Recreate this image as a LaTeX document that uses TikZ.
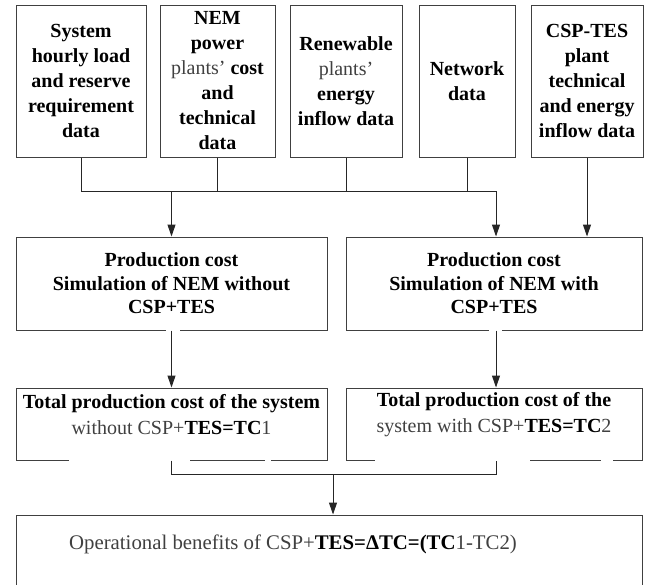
\documentclass[tikz,border=0pt]{standalone}
\usepackage{fontspec}
\setmainfont{Liberation Serif}
\usetikzlibrary{arrows.meta}
\newcommand\regtxt[1]{{\mdseries\color{black!75}#1}}
\begin{document}
\begin{tikzpicture}[x=1pt,y=-1pt,
  box/.style={draw=black!75, line width=1pt, rectangle, inner sep=0pt, align=center,
    font=\fontsize{20}{25}\selectfont\bfseries},
  midbox/.style={box, font=\fontsize{20}{23.5}\selectfont\bfseries},
  txt/.style={inner sep=0pt, align=center, font=\fontsize{20}{26}\selectfont\bfseries},
  conn/.style={draw=black!85, line width=1pt},
  arr/.style={conn, -{Triangle[length=12pt,width=8pt]}},
  gap/.style={fill=white}]
\useasboundingbox (0,0) rectangle (647,584);
\clip (0,0) rectangle (647,584);

% top row
\node[box, minimum width=130pt, minimum height=152pt] (b1) at (81,81)
  {System\\hourly load\\and reserve\\requirement\\data};
\node[box, minimum width=115pt, minimum height=152pt] (b2) at (217.5,81)
  {NEM\\power\\\regtxt{plants'} cost\\and\\technical\\data};
\node[box, minimum width=112pt, minimum height=152pt] (b3) at (346,81)
  {Renewable\\\regtxt{plants'}\\energy\\inflow data};
\node[box, minimum width=96pt, minimum height=152pt] (b4) at (467,81)
  {Network\\data};
\node[box, minimum width=112pt, minimum height=152pt] (b5) at (587,81)
  {CSP-TES\\plant\\technical\\and energy\\inflow data};

% middle row
\node[midbox, minimum width=311pt, minimum height=93pt] (m1) at (171.5,283.5)
  {Production cost\\Simulation of NEM without\\CSP+TES};
\node[midbox, minimum width=296pt, minimum height=93pt] (m2) at (494,283.5)
  {Production cost\\Simulation of NEM with\\CSP+TES};

% lower row
\node[box, minimum width=311pt, minimum height=72pt] (l1) at (171.5,424) {};
\node[txt] (l1t) at (171.5,415)
  {Total production cost of the system\\\regtxt{without CSP+}TES=TC\regtxt{1}};
\node[box, minimum width=296pt, minimum height=72pt] (l2) at (494,424) {};
\node[txt] (l2t) at (494,415)
  {Total production cost of the\\\regtxt{system with CSP+}TES=TC\regtxt{2}};

% bottom box
\node[draw=black!75, line width=1pt, inner sep=0pt, minimum width=626pt, minimum height=85pt] (bt) at (329,557.5) {};
\node[inner sep=0pt, font=\fontsize{20.8}{24}\selectfont, text=black!75] (btt) at (293,544)
  {Operational benefits of CSP+\textbf{\color{black}TES=ΔTC=(TC}1-TC2)};

% gaps in box edges
\fill[gap] (166,328) rectangle (180,332.5);
\fill[gap] (489,328) rectangle (502,332.5);
\fill[gap] (69,457) rectangle (190,462);
\fill[gap] (265,457) rectangle (271,462);
\fill[gap] (375,457) rectangle (530,462);
\fill[gap] (601,457) rectangle (613,462);

% connectors
\coordinate (jL) at (81,191);
\coordinate (jR) at (496,191);
\coordinate (jB) at (333,474);
\draw[conn] (b1.south) -- (b1.south |- jL) -- (jR);
\draw[conn] (b2.south) -- (b2.south |- jL);
\draw[conn] (b3.south) -- (b3.south |- jL);
\draw[conn] (b4.south) -- (b4.south |- jL);
\draw[arr] (m1.north |- jL) -- (m1.north);
\draw[arr] (jR) -- (jR |- m2.north);
\draw[arr] (b5.south) -- (b5.south |- m2.north);
\draw[arr] (m1.south) -- (l1.north);
\draw[arr] (jR |- m2.south) -- (jR |- l2.north);
\draw[conn] (l1.south) -- (l1.south |- jB) -- (jR |- jB) -- (jR |- l2.south);
\draw[arr] (jB) -- (jB |- bt.north);
\end{tikzpicture}
\end{document}
